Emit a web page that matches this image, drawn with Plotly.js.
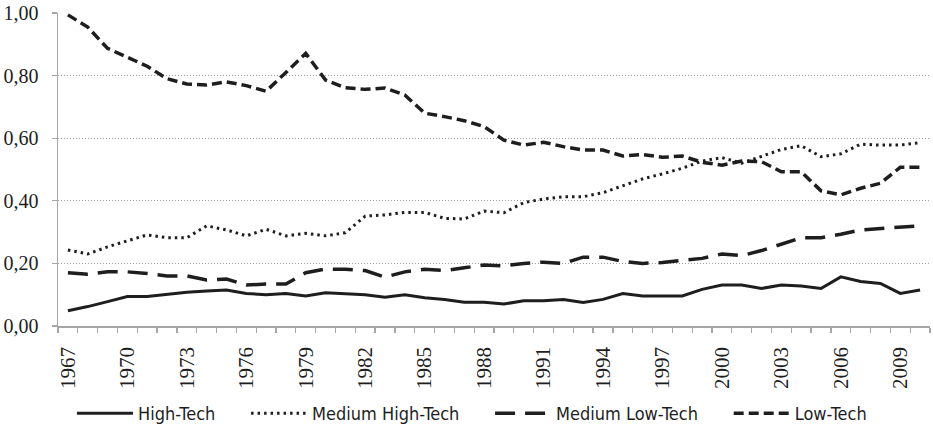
<!DOCTYPE html>
<html>
<head>
<meta charset="utf-8">
<script src="https://cdn.plot.ly/plotly-3.0.1.min.js"></script>
<style>
  html, body { margin: 0; padding: 0; background: #ffffff; }
  #chart { width: 933px; height: 426px; }
</style>
</head>
<body>
<div id="chart"></div>
<script>
var years = [1967,1968,1969,1970,1971,1972,1973,1974,1975,1976,
             1977,1978,1979,1980,1981,1982,1983,1984,1985,1986,
             1987,1988,1989,1990,1991,1992,1993,1994,1995,1996,
             1997,1998,1999,2000,2001,2002,2003,2004,2005,2006,
             2007,2008,2009,2010];

var tickYears = [1967,1970,1973,1976,1979,1982,1985,1988,1991,1994,1997,2000,2003,2006,2009];

var highTech = [0.049,0.062,0.078,0.094,0.094,0.102,0.108,0.112,0.115,0.104,
                0.100,0.104,0.096,0.106,0.102,0.100,0.092,0.100,0.090,0.085,
                0.076,0.076,0.070,0.081,0.081,0.085,0.075,0.085,0.104,0.096,
                0.096,0.096,0.117,0.131,0.131,0.120,0.131,0.128,0.120,0.157,
                0.142,0.136,0.104,0.115];

var mediumHighTech = [0.243,0.230,0.253,0.273,0.291,0.282,0.282,0.320,0.307,0.288,
                      0.309,0.288,0.296,0.288,0.298,0.351,0.355,0.363,0.363,0.344,
                      0.342,0.367,0.362,0.394,0.406,0.413,0.413,0.426,0.448,0.470,
                      0.486,0.504,0.527,0.538,0.520,0.541,0.564,0.576,0.541,0.550,
                      0.581,0.578,0.578,0.586];

var mediumLowTech = [0.170,0.165,0.173,0.173,0.168,0.160,0.160,0.147,0.150,0.131,
                     0.134,0.134,0.170,0.182,0.181,0.177,0.156,0.173,0.181,0.177,
                     0.186,0.195,0.192,0.200,0.204,0.200,0.220,0.220,0.206,0.200,
                     0.203,0.209,0.216,0.230,0.225,0.241,0.261,0.282,0.282,0.293,
                     0.307,0.312,0.315,0.320];

var lowTech = [0.994,0.955,0.887,0.860,0.830,0.790,0.773,0.770,0.780,0.768,
               0.750,0.810,0.871,0.786,0.761,0.756,0.760,0.738,0.680,0.669,
               0.656,0.637,0.594,0.578,0.587,0.573,0.562,0.562,0.543,0.548,
               0.539,0.543,0.523,0.514,0.527,0.525,0.493,0.493,0.432,0.419,
               0.440,0.456,0.507,0.507];

var seriesNames = ['High-Tech', 'Medium High-Tech', 'Medium Low-Tech', 'Low-Tech'];

var lineColor = '#1e1e1e';
var axisGray = '#a6a6a6';
var pad = '\u00a0\u00a0\u00a0\u00a0\u00a0';

var traces = [
  { x: years, y: highTech, name: seriesNames[0] + pad, type: 'scatter', mode: 'lines',
    line: { color: lineColor, width: 3 } },
  { x: years, y: mediumHighTech, name: seriesNames[1] + pad, type: 'scatter', mode: 'lines',
    line: { color: lineColor, width: 3, dash: '2.5px,4px' } },
  { x: years, y: mediumLowTech, name: seriesNames[2] + pad, type: 'scatter', mode: 'lines',
    line: { color: lineColor, width: 3.5, dash: '20px,10px' } },
  { x: years, y: lowTech, name: seriesNames[3], type: 'scatter', mode: 'lines',
    line: { color: lineColor, width: 3.5, dash: '10px,5px' } }
];

var layout = {
  width: 933,
  height: 426,
  margin: { l: 58, r: 3, t: 13, b: 100, pad: 0, autoexpand: false },
  paper_bgcolor: '#ffffff',
  plot_bgcolor: '#ffffff',
  separators: ', ',
  showlegend: true,
  hovermode: false,
  legend: {
    orientation: 'h',
    x: 0.016, xanchor: 'left',
    y: -0.280, yanchor: 'middle',
    font: { family: 'DejaVu Sans Condensed', size: 18, color: '#1e1e1e' },
    itemwidth: 56,
    bgcolor: 'rgba(0,0,0,0)'
  },
  xaxis: {
    type: 'linear',
    range: [1966.5, 2010.5],
    tickmode: 'array',
    tickvals: tickYears,
    ticktext: tickYears.map(String),
    ticks: '',
    tickangle: -90,
    tickfont: { family: 'Liberation Serif', size: 21, color: '#1e1e1e' },
    ticklabelstandoff: 11,
    showgrid: false,
    zeroline: false,
    showline: true,
    linecolor: axisGray,
    linewidth: 1.5,
    minor: {
      tick0: 1966.5,
      dtick: 1,
      ticks: 'outside',
      ticklen: 5,
      tickwidth: 1.2,
      tickcolor: axisGray,
      showgrid: false
    },
    fixedrange: true
  },
  yaxis: {
    range: [0, 1],
    tickmode: 'array',
    tickvals: [0, 0.2, 0.4, 0.6, 0.8, 1.0],
    tickformat: '.2f',
    ticks: 'outside',
    ticklen: 5,
    tickwidth: 1.2,
    tickcolor: axisGray,
    tickfont: { family: 'Liberation Serif', size: 20, color: '#1e1e1e' },
    ticklabelstandoff: 9,
    showgrid: true,
    gridcolor: '#a0a0a0',
    gridwidth: 1,
    griddash: '1px,2px',
    zeroline: false,
    showline: true,
    linecolor: axisGray,
    linewidth: 1.5,
    fixedrange: true
  }
};

Plotly.newPlot('chart', traces, layout, { displayModeBar: false, staticPlot: true });
</script>
</body>
</html>
